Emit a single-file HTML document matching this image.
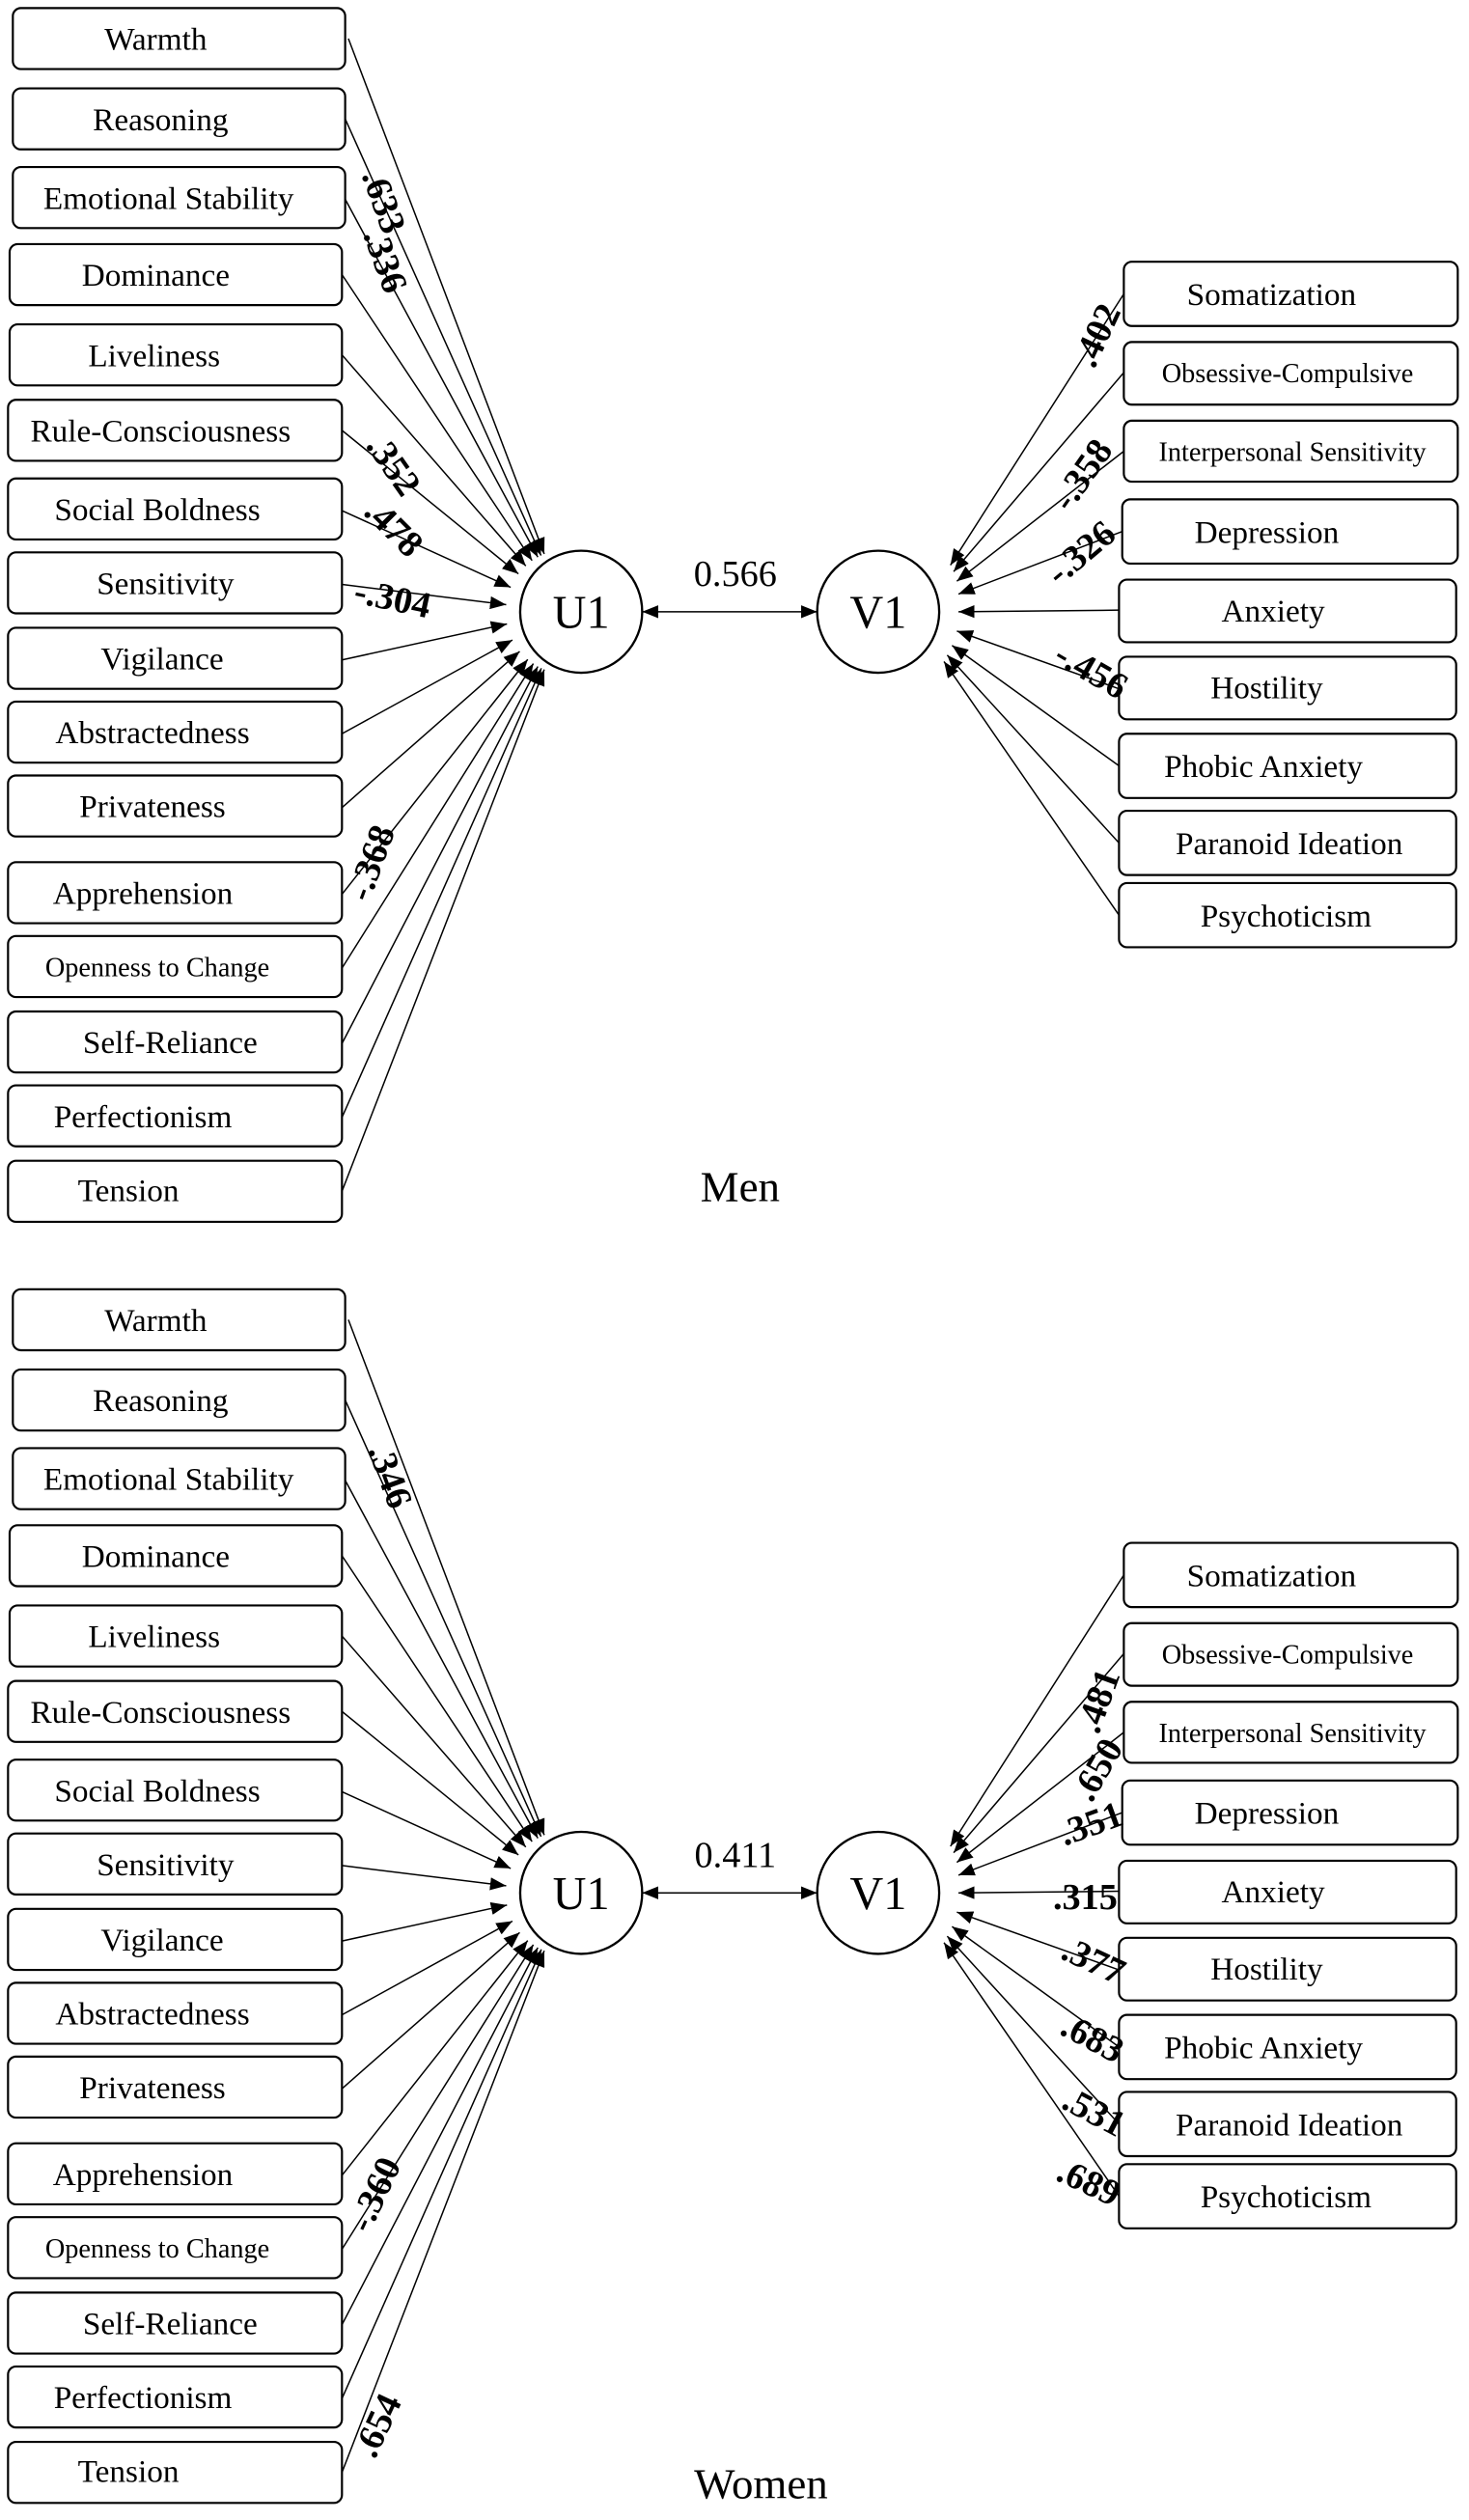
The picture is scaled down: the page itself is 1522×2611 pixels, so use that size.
<!DOCTYPE html>
<html><head><meta charset="utf-8"><style>
html,body{margin:0;padding:0;background:#fff;}
svg{display:block;}
text{font-family:"Liberation Serif",serif;fill:#000;}
.b{font-size:20px;text-anchor:middle;}
.s{font-size:17px;text-anchor:middle;}
.c{font-size:23px;font-weight:bold;text-anchor:middle;}
.n{font-size:29px;text-anchor:middle;}
rect{fill:#fff;stroke:#000;stroke-width:1.3;}
line{stroke:#000;stroke-width:0.9;}
</style></head><body>
<svg width="1522" height="2611" viewBox="0 0 915 1569.6" xmlns="http://www.w3.org/2000/svg">
<defs>
<marker id="a" markerWidth="10" markerHeight="8" refX="10" refY="4" orient="auto" markerUnits="userSpaceOnUse"><path d="M0,0 L10,4 L0,8 z" fill="#000"/></marker>
<marker id="s" markerWidth="10" markerHeight="8" refX="0" refY="4" orient="auto" markerUnits="userSpaceOnUse"><path d="M10,0 L0,4 L10,8 z" fill="#000"/></marker>
<g id="base">
<rect x="8" y="5" width="207" height="38" rx="5"/>
<rect x="8" y="55" width="207" height="38" rx="5"/>
<rect x="8" y="104" width="207" height="38" rx="5"/>
<rect x="6" y="152" width="207" height="38" rx="5"/>
<rect x="6" y="202" width="207" height="38" rx="5"/>
<rect x="5" y="249" width="208" height="38" rx="5"/>
<rect x="5" y="298" width="208" height="38" rx="5"/>
<rect x="5" y="344" width="208" height="38" rx="5"/>
<rect x="5" y="391" width="208" height="38" rx="5"/>
<rect x="5" y="437" width="208" height="38" rx="5"/>
<rect x="5" y="483" width="208" height="38" rx="5"/>
<rect x="5" y="537" width="208" height="38" rx="5"/>
<rect x="5" y="583" width="208" height="38" rx="5"/>
<rect x="5" y="630" width="208" height="38" rx="5"/>
<rect x="5" y="676" width="208" height="38" rx="5"/>
<rect x="5" y="723" width="208" height="38" rx="5"/>
<text class="b" x="97" y="31">Warmth</text>
<text class="b" x="100" y="81">Reasoning</text>
<text class="b" x="105" y="130">Emotional Stability</text>
<text class="b" x="97" y="178">Dominance</text>
<text class="b" x="96" y="228">Liveliness</text>
<text class="b" x="100" y="275">Rule-Consciousness</text>
<text class="b" x="98" y="324">Social Boldness</text>
<text class="b" x="103" y="370">Sensitivity</text>
<text class="b" x="101" y="417">Vigilance</text>
<text class="b" x="95" y="463">Abstractedness</text>
<text class="b" x="95" y="509">Privateness</text>
<text class="b" x="89" y="563">Apprehension</text>
<text class="s" x="98" y="608">Openness to Change</text>
<text class="b" x="106" y="656">Self-Reliance</text>
<text class="b" x="89" y="702">Perfectionism</text>
<text class="b" x="80" y="748">Tension</text>
<line x1="217" y1="24" x2="339" y2="345" marker-end="url(#a)"/>
<line x1="215" y1="74" x2="337" y2="346" marker-end="url(#a)"/>
<line x1="215" y1="124" x2="335" y2="347" marker-end="url(#a)"/>
<line x1="213" y1="171" x2="331.4" y2="349.1" marker-end="url(#a)"/>
<line x1="213" y1="221" x2="327.5" y2="352.5" marker-end="url(#a)"/>
<line x1="213" y1="268" x2="322.9" y2="357.4" marker-end="url(#a)"/>
<line x1="213" y1="318" x2="318.1" y2="365.8" marker-end="url(#a)"/>
<line x1="213" y1="364" x2="315.3" y2="376.6" marker-end="url(#a)"/>
<line x1="213" y1="411" x2="315.8" y2="388.6" marker-end="url(#a)"/>
<line x1="213" y1="457" x2="319.2" y2="398.6" marker-end="url(#a)"/>
<line x1="213" y1="503" x2="323.7" y2="405.7" marker-end="url(#a)"/>
<line x1="213" y1="557" x2="328.7" y2="410.7" marker-end="url(#a)"/>
<line x1="213" y1="603" x2="332.2" y2="413.3" marker-end="url(#a)"/>
<line x1="213" y1="650" x2="335" y2="415.1" marker-end="url(#a)"/>
<line x1="213" y1="696" x2="337.2" y2="416.2" marker-end="url(#a)"/>
<line x1="213" y1="742" x2="339" y2="417" marker-end="url(#a)"/>
<circle cx="362" cy="381" r="38" fill="#fff" stroke="#000" stroke-width="1.4"/>
<circle cx="547" cy="381" r="38" fill="#fff" stroke="#000" stroke-width="1.4"/>
<text class="n" x="362" y="391">U1</text>
<text class="n" x="547" y="391">V1</text>
<line x1="400" y1="381" x2="509" y2="381" marker-start="url(#s)" marker-end="url(#a)"/>
<rect x="700" y="163" width="208" height="40" rx="5"/>
<rect x="700" y="213" width="208" height="39" rx="5"/>
<rect x="700" y="262" width="208" height="38" rx="5"/>
<rect x="699" y="311" width="209" height="40" rx="5"/>
<rect x="697" y="361" width="210" height="39" rx="5"/>
<rect x="697" y="409" width="210" height="39" rx="5"/>
<rect x="697" y="457" width="210" height="40" rx="5"/>
<rect x="697" y="505" width="210" height="40" rx="5"/>
<rect x="697" y="550" width="210" height="40" rx="5"/>
<text class="b" x="792" y="190">Somatization</text>
<text class="s" x="802" y="238">Obsessive-Compulsive</text>
<text class="s" x="805" y="287">Interpersonal Sensitivity</text>
<text class="b" x="789" y="338">Depression</text>
<text class="b" x="793" y="387">Anxiety</text>
<text class="b" x="789" y="435">Hostility</text>
<text class="b" x="787" y="484">Phobic Anxiety</text>
<text class="b" x="803" y="532">Paranoid Ideation</text>
<text class="b" x="801" y="577">Psychoticism</text>
<line x1="700" y1="183" x2="592" y2="352" marker-end="url(#a)"/>
<line x1="700" y1="232" x2="594" y2="356" marker-end="url(#a)"/>
<line x1="700" y1="281" x2="596" y2="362" marker-end="url(#a)"/>
<line x1="699" y1="331" x2="597" y2="370" marker-end="url(#a)"/>
<line x1="697" y1="380" x2="597" y2="381" marker-end="url(#a)"/>
<line x1="697" y1="429" x2="596" y2="393" marker-end="url(#a)"/>
<line x1="697" y1="477" x2="593" y2="402" marker-end="url(#a)"/>
<line x1="697" y1="525" x2="590" y2="408" marker-end="url(#a)"/>
<line x1="697" y1="570" x2="588" y2="412" marker-end="url(#a)"/>
</g>
</defs>

<!-- Men -->
<use href="#base"/>
<text x="458" y="365" style="font-size:23px;text-anchor:middle">0.566</text>
<text x="461" y="748" style="font-size:27px;text-anchor:middle">Men</text>
<text class="c" transform="translate(232,128) rotate(70)">.633</text>
<text class="c" transform="translate(233,165) rotate(70)">.336</text>
<text class="c" transform="translate(239,294) rotate(55)">.352</text>
<text class="c" transform="translate(240,334) rotate(45)">.478</text>
<text class="c" transform="translate(243,380) rotate(12)">-.304</text>
<text class="c" transform="translate(238,540) rotate(-70)">-.368</text>
<text class="c" transform="translate(690,212) rotate(-65)">.402</text>
<text class="c" transform="translate(680,300) rotate(-55)">-.358</text>
<text class="c" transform="translate(678,350) rotate(-40)">-.326</text>
<text class="c" transform="translate(676,424) rotate(30)">-.456</text>

<!-- Women -->
<g transform="translate(0,798)"><use href="#base"/></g>
<text x="458" y="1163" style="font-size:23px;text-anchor:middle">0.411</text>
<text x="474" y="1556" style="font-size:27px;text-anchor:middle">Women</text>
<text class="c" transform="translate(236,922) rotate(70)">.346</text>
<text class="c" transform="translate(240,1370) rotate(-65)">-.360</text>
<text class="c" transform="translate(242,1514) rotate(-65)">.654</text>
<text class="c" transform="translate(691,1062) rotate(-70)">.481</text>
<text class="c" transform="translate(690,1106) rotate(-60)">.650</text>
<text class="c" transform="translate(682,1143) rotate(-20)">.351</text>
<text class="c" transform="translate(676,1189)">.315</text>
<text class="c" transform="translate(678,1228) rotate(25)">.377</text>
<text class="c" transform="translate(677,1276) rotate(28)">.683</text>
<text class="c" transform="translate(678,1322) rotate(28)">.531</text>
<text class="c" transform="translate(675,1366) rotate(25)">.689</text>
</svg>
</body></html>
